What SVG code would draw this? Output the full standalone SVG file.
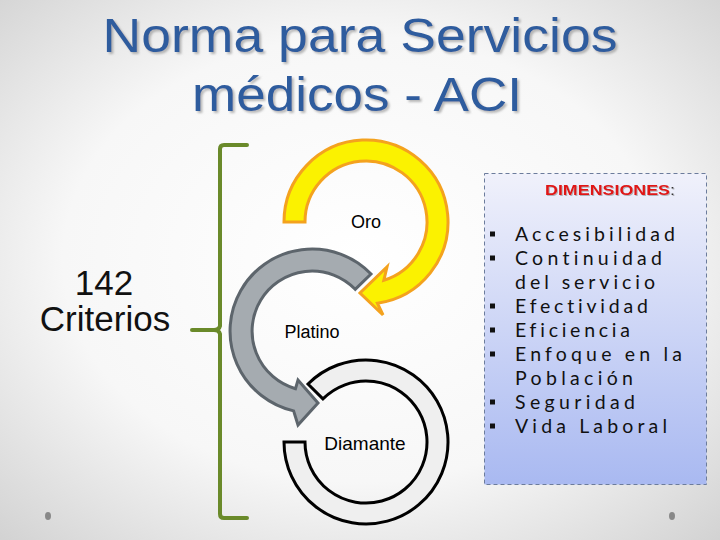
<svg xmlns="http://www.w3.org/2000/svg" width="720" height="540" viewBox="0 0 720 540">
<defs>
<radialGradient id="bg" cx="50%" cy="48%" r="75%">
<stop offset="0" stop-color="#ffffff"/>
<stop offset="0.55" stop-color="#f7f7f7"/>
<stop offset="1" stop-color="#cfcfcf"/>
</radialGradient>
<linearGradient id="boxg" x1="0" y1="0" x2="0" y2="1">
<stop offset="0" stop-color="#f0f1fb"/>
<stop offset="1" stop-color="#a9b9f1"/>
</linearGradient>
<filter id="sh" x="-5%" y="-20%" width="110%" height="150%">
<feDropShadow dx="2" dy="2" stdDeviation="1" flood-color="#8a8a8a" flood-opacity="0.6"/>
</filter>
<filter id="sh2" x="-5%" y="-20%" width="110%" height="150%">
<feDropShadow dx="1" dy="1" stdDeviation="0.6" flood-color="#777" flood-opacity="0.5"/>
</filter>
</defs>
<style>
.title{font-family:"Liberation Sans",Arial,sans-serif;font-size:49px;fill:#2f5c9e;text-anchor:middle;filter:url(#sh)}
.lbl{font-family:"Liberation Sans",Arial,sans-serif;font-size:18px;fill:#000;text-anchor:middle}
.big{font-family:"Liberation Sans",Arial,sans-serif;font-size:35px;fill:#111;text-anchor:middle}
.item{font-family:Lato,"Liberation Sans",sans-serif;font-size:19.5px;fill:#111;font-variant-ligatures:none;font-feature-settings:"liga" 0,"clig" 0}
.bul{fill:#111}
.brk{fill:none;stroke:#6a8a2a;stroke-width:4;stroke-linecap:round;stroke-linejoin:round}
.dot{fill:#888}
</style>
<rect x="0" y="0" width="720" height="540" fill="url(#bg)"/>
<ellipse class="dot" cx="48" cy="516" rx="3" ry="4"/>
<ellipse class="dot" cx="672" cy="516" rx="3" ry="4"/>

<g id="title">
<text class="title" x="360" y="52" textLength="515" lengthAdjust="spacingAndGlyphs">Norma para Servicios</text>
<text class="title" x="357" y="111" textLength="330" lengthAdjust="spacingAndGlyphs">médicos - ACI</text>
</g>

<g id="criterios">
<text class="big" x="104" y="295">142</text>
<text class="big" x="105" y="331">Criterios</text>
</g>

<g id="connectors">
<path class="brk" d="M247,145 L224,145 Q220,145 220,149 L220,326 Q219,330 214,330 L192,330 M214,330 Q219,330 220,334 L220,514 Q220,518 224,518 L247,518"/>
</g>

<g id="node-oro">
<path d="M284,222 A82,82 0 1,1 377.4,303.2 L383,315 L360,293 L387,267 L383.8,280.3 A61,61 0 1,0 305,222 Z" fill="#fbf200" stroke="#f4a21e" stroke-width="3" stroke-linejoin="miter"/>
<text class="lbl" x="366" y="228">Oro</text>
</g>

<g id="node-platino">
<path d="M371,274 A82,82 0 1,0 293.6,410.9 L298,425 L318,403 L298,380 L295.5,388.7 A60,60 0 1,1 355.2,289.3 Z" fill="#a5abb0" stroke="#5d656c" stroke-width="3"/>
<text class="lbl" x="312" y="338">Platino</text>
</g>

<g id="node-diamante">
<path d="M308,384 A82,82 0 1,1 284,442 L305,442 A61,61 0 1,0 322.9,398.9 Z" fill="#efefef" stroke="#000" stroke-width="3"/>
<text class="lbl" x="365" y="450" style="font-size:19px">Diamante</text>
</g>

<g id="dimensiones">
<rect x="484.5" y="173.5" width="222" height="311" fill="url(#boxg)" stroke="#6c7c9c" stroke-width="1" stroke-dasharray="4,3"/>
<text x="545" y="195" textLength="130" lengthAdjust="spacingAndGlyphs" style="font-family:'Liberation Sans',Arial,sans-serif;font-size:15px;font-weight:bold;fill:#e01414;filter:url(#sh2)">DIMENSIONES<tspan style="font-weight:normal;fill:#333">:</tspan></text>
<rect class="bul" x="490" y="231.5" width="5" height="5"/>
<rect class="bul" x="490" y="255.5" width="5" height="5"/>
<rect class="bul" x="490" y="303.5" width="5" height="5"/>
<rect class="bul" x="490" y="327.5" width="5" height="5"/>
<rect class="bul" x="490" y="351.5" width="5" height="5"/>
<rect class="bul" x="490" y="399.5" width="5" height="5"/>
<rect class="bul" x="490" y="423.5" width="5" height="5"/>
<text class="item" x="515" y="241" textLength="160" lengthAdjust="spacing">Accesibilidad</text>
<text class="item" x="515" y="265" textLength="147" lengthAdjust="spacing">Continuidad</text>
<text class="item" x="515" y="289" textLength="140" lengthAdjust="spacing">del servicio</text>
<text class="item" x="515" y="313" textLength="133" lengthAdjust="spacing">Efectividad</text>
<text class="item" x="515" y="337" textLength="115" lengthAdjust="spacing">Eficiencia</text>
<text class="item" x="515" y="361" textLength="167" lengthAdjust="spacing">Enfoque en la</text>
<text class="item" x="515" y="385" textLength="118" lengthAdjust="spacing">Población</text>
<text class="item" x="515" y="409" textLength="120" lengthAdjust="spacing">Seguridad</text>
<text class="item" x="515" y="433" textLength="152" lengthAdjust="spacing">Vida Laboral</text>
</g>
</svg>
